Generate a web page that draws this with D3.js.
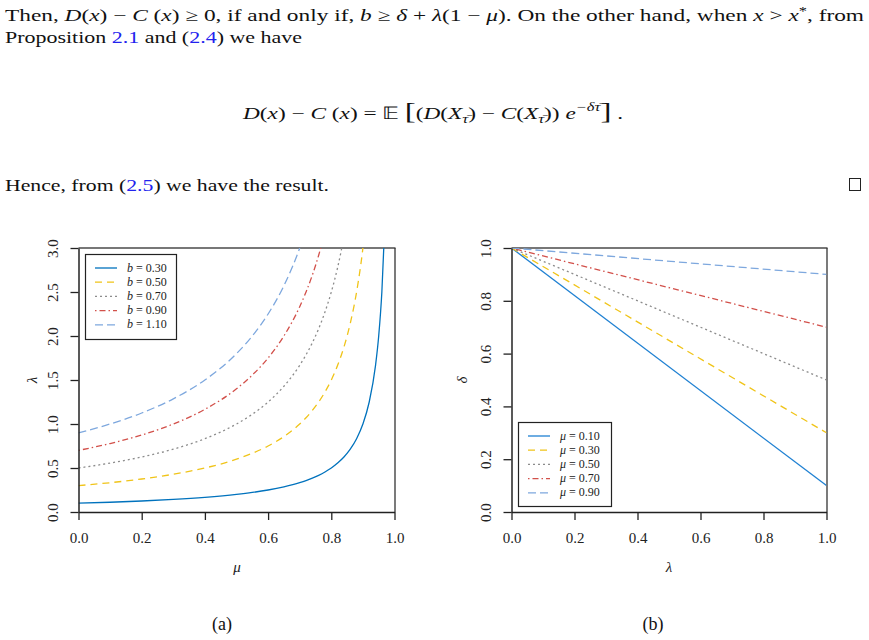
<!DOCTYPE html>
<html><head><meta charset="utf-8">
<script src="https://cdn.jsdelivr.net/npm/d3@7"></script>
<style>body{margin:0;background:#fff} svg{display:block}</style>
</head><body><svg id="c" width="869" height="640"></svg>
<script>
// ---------- data: panel (a) ----------
const muGrid = [0,0.1,0.2,0.3,0.4,0.5,0.55,0.6,0.65,0.7,0.72,0.74,0.76,0.78,0.8,0.82,0.84,0.86,0.88,0.9,0.92,0.94,0.95,0.96,0.97];
const bLabels = ["0.30","0.50","0.70","0.90","1.10"];
const lambdaB030 = [0.10,0.111,0.125,0.143,0.167,0.20,0.222,0.25,0.286,0.333,0.357,0.385,0.417,0.455,0.50,0.556,0.625,0.714,0.833,1.00,1.25,1.667,2.00,2.50,3.33];
const lambdaB050 = [0.30,0.333,0.375,0.429,0.50,0.60,0.667,0.75,0.857,1.00,1.071,1.154,1.25,1.364,1.50,1.667,1.875,2.143,2.50,3.00,3.75,null,null,null,null];
const lambdaB070 = [0.50,0.556,0.625,0.714,0.833,1.00,1.111,1.25,1.429,1.667,1.786,1.923,2.083,2.273,2.50,2.778,3.125,null,null,null,null,null,null,null,null];
const lambdaB090 = [0.70,0.778,0.875,1.00,1.167,1.40,1.556,1.75,2.00,2.333,2.50,2.692,2.917,3.182,null,null,null,null,null,null,null,null,null,null,null];
const lambdaB110 = [0.90,1.00,1.125,1.286,1.50,1.80,2.00,2.25,2.571,3.00,3.214,null,null,null,null,null,null,null,null,null,null,null,null,null,null];
const xTicksA = [0,0.2,0.4,0.6,0.8,1.0];
const yTicksA = [0,0.5,1.0,1.5,2.0,2.5,3.0];

// ---------- data: panel (b) ----------
const lambdaGrid = [0,1];
const muLabels = ["0.10","0.30","0.50","0.70","0.90"];
const deltaMu010 = [1,0.1];
const deltaMu030 = [1,0.3];
const deltaMu050 = [1,0.5];
const deltaMu070 = [1,0.7];
const deltaMu090 = [1,0.9];
const xTicksB = [0,0.2,0.4,0.6,0.8,1.0];
const yTicksB = [0,0.2,0.4,0.6,0.8,1.0];

// ---------- styles ----------
const stylesA = [
  {color:"#0072BD", dash:null},
  {color:"#F0C419", dash:"7,5"},
  {color:"#8c8c8c", dash:"2,3"},
  {color:"#D2504A", dash:"1.5,3,6,3"},
  {color:"#7EA8DE", dash:"8,4"}
];
const stylesB = [
  {color:"#1f80d2", dash:null},
  {color:"#F0C419", dash:"7,5"},
  {color:"#8c8c8c", dash:"2,3"},
  {color:"#D2504A", dash:"1.5,3,6,3"},
  {color:"#7EA8DE", dash:"8,4"}
];

const svg = d3.select("#c");
const SERIF = "Liberation Serif, Times New Roman, serif";

// ---------- body text ----------
function richText(x, y, segs, opts) {
  const t = svg.append("text").attr("x", x).attr("y", y)
    .style("font-family", SERIF).attr("font-size", opts.size || 17).attr("fill", "#111");
  if (opts.len) t.attr("textLength", opts.len).attr("lengthAdjust", "spacingAndGlyphs");
  let cur = 0;
  segs.forEach(s => {
    if (typeof s === "string") s = {t:s};
    const sp = t.append("tspan").text(s.t);
    if (s.i) sp.attr("font-style", "italic");
    if (s.c) sp.attr("fill", s.c);
    if (s.fs) sp.attr("font-size", s.fs);
    const target = s.dy || 0;
    if (target !== cur) { sp.attr("dy", target - cur); cur = target; }
  });
  return t;
}
const I = t => ({t, i:true});
const BL = t => ({t, c:"#2222ee"});

richText(5, 21, ["Then, ", I("D"), "(", I("x"), ") − ", I("C"), " (", I("x"), ") ≥ 0, if and only if, ", I("b"), " ≥ ", I("δ"), " + ", I("λ"), "(1 − ", I("μ"), "). On the other hand, when ", I("x"), " > ", I("x"), {t:"*", dy:-6, fs:12}, {t:", from", dy:0}], {len:859});
richText(5, 43, ["Proposition ", BL("2.1"), " and (", BL("2.4"), ") we have"], {len:297});
richText(243, 119, [I("D"), "(", I("x"), ") − ", I("C"), " (", I("x"), ") = ", {t:"𝔼"}, " ", {t:"[", fs:24}, "(", I("D"), "(", I("X"), {t:"τ̄", i:true, dy:4, fs:12}, {t:") − ", dy:0}, I("C"), "(", I("X"), {t:"τ̄", i:true, dy:4, fs:12}, {t:")) ", dy:0}, I("e"), {t:"−δτ̄", i:true, dy:-8, fs:12}, {t:"]", fs:24, dy:0}, " ."], {len:380});
richText(5, 191, ["Hence, from (", BL("2.5"), ") we have the result."], {len:324});
svg.append("rect").attr("x", 849.5).attr("y", 178.5).attr("width", 11).attr("height", 12)
  .attr("fill", "none").attr("stroke", "#222").attr("stroke-width", 1);

// ---------- panel helper ----------
function panel(cfg) {
  const x = d3.scaleLinear().domain([0,1]).range([cfg.x0, cfg.x1]);
  const y = d3.scaleLinear().domain(cfg.ydom).range([512, 248]);
  const g = svg.append("g");
  const clipId = "clip" + cfg.id;
  svg.append("clipPath").attr("id", clipId).append("rect")
    .attr("x", cfg.x0).attr("y", 248).attr("width", cfg.x1 - cfg.x0).attr("height", 264);

  g.append("line").attr("x1", cfg.x0).attr("x2", cfg.x1 + 1).attr("y1", 248).attr("y2", 248)
    .attr("stroke", "#777").attr("stroke-width", 2);
  g.append("line").attr("x1", cfg.x1 + 0.5).attr("x2", cfg.x1 + 0.5).attr("y1", 248).attr("y2", 512)
    .attr("stroke", "#333").attr("stroke-width", 1.3);

  const line = d3.line().defined(d => d[1] !== null).x(d => x(d[0])).y(d => y(d[1]))
    .curve(cfg.curve);
  cfg.series.forEach((vals, k) => {
    const st = cfg.styles[k];
    g.append("path").datum(cfg.grid.map((v, j) => [v, vals[j]]))
      .attr("clip-path", `url(#${clipId})`)
      .attr("d", line).attr("fill", "none").attr("stroke", st.color)
      .attr("stroke-width", 1.3).attr("stroke-dasharray", st.dash);
  });

  const ax = g.append("g").attr("transform", "translate(0,512)")
    .call(d3.axisBottom(x).tickValues(cfg.xticks).tickFormat(d3.format(".1f")).tickSize(8).tickSizeOuter(0));
  ax.select(".domain").attr("stroke", "#222").attr("stroke-width", 1.5);
  ax.selectAll(".tick line").attr("stroke", "#222").attr("stroke-width", 1.3);
  ax.selectAll(".tick text").style("font-family", SERIF).style("font-size", "15px").attr("fill", "#222")
    .attr("y", 26).attr("dy", "0.35em");

  const ay = g.append("g").attr("transform", `translate(${cfg.x0},0)`)
    .call(d3.axisLeft(y).tickValues(cfg.yticks).tickFormat(d3.format(".1f")).tickSize(8).tickSizeOuter(0));
  ay.select(".domain").attr("stroke", "#222").attr("stroke-width", 1.5);
  ay.selectAll(".tick line").attr("stroke", "#222").attr("stroke-width", 1.3);
  ay.selectAll(".tick text").style("font-family", SERIF).style("font-size", "15px").attr("fill", "#222")
    .attr("x", 0).attr("dy", 0).attr("text-anchor", "middle")
    .attr("transform", `translate(${cfg.ytx - cfg.x0},0) rotate(-90)`);

  g.append("text").attr("x", cfg.xlx).attr("y", 572).attr("text-anchor", "middle")
    .style("font-family", SERIF).attr("font-style", "italic").attr("font-size", 15).attr("fill", "#222")
    .text(cfg.xlabel);
  g.append("text").attr("transform", `translate(${cfg.ylx},380) rotate(-90)`).attr("text-anchor", "middle")
    .style("font-family", SERIF).attr("font-style", "italic").attr("font-size", 15).attr("fill", "#222")
    .text(cfg.ylabel);
  g.append("text").attr("x", cfg.capx).attr("y", 630).attr("text-anchor", "middle")
    .style("font-family", SERIF).attr("font-size", 18).attr("fill", "#111").text(cfg.caption);

  const L = cfg.legend;
  g.append("rect").attr("x", L.x + 0.5).attr("y", L.y + 0.5).attr("width", L.w).attr("height", L.h)
    .attr("fill", "#fff").attr("stroke", "#222").attr("stroke-width", 1.2);
  cfg.labels.forEach((lab, k) => {
    const st = cfg.styles[k];
    const yy = L.y + 14 + k * 14.2;
    g.append("line").attr("x1", L.x + 10).attr("x2", L.x + 32).attr("y1", yy).attr("y2", yy)
      .attr("stroke", st.color).attr("stroke-width", 1.3).attr("stroke-dasharray", st.dash);
    const t = g.append("text").attr("x", L.x + 42).attr("y", yy + 3.5)
      .style("font-family", SERIF).attr("font-size", 12).attr("fill", "#222");
    t.append("tspan").attr("font-style", "italic").text(cfg.sym);
    t.append("tspan").text(" = " + lab);
  });
}

panel({id:"a", x0:78.5, x1:394.5, ydom:[0,3], grid:muGrid,
  series:[lambdaB030, lambdaB050, lambdaB070, lambdaB090, lambdaB110],
  styles:stylesA, labels:bLabels, sym:"b", curve:d3.curveMonotoneX,
  xticks:xTicksA, yticks:yTicksA, ytx:58, xlabel:"μ", xlx:237, ylabel:"λ", ylx:37,
  caption:"(a)", capx:222, legend:{x:85, y:254, w:91, h:85}});

panel({id:"b", x0:511.5, x1:826.5, ydom:[0,1], grid:lambdaGrid,
  series:[deltaMu010, deltaMu030, deltaMu050, deltaMu070, deltaMu090],
  styles:stylesB, labels:muLabels, sym:"μ", curve:d3.curveLinear,
  xticks:xTicksB, yticks:yTicksB, ytx:491, xlabel:"λ", xlx:669, ylabel:"δ", ylx:467,
  caption:"(b)", capx:653, legend:{x:518, y:422, w:93, h:84}});
</script></body></html>
